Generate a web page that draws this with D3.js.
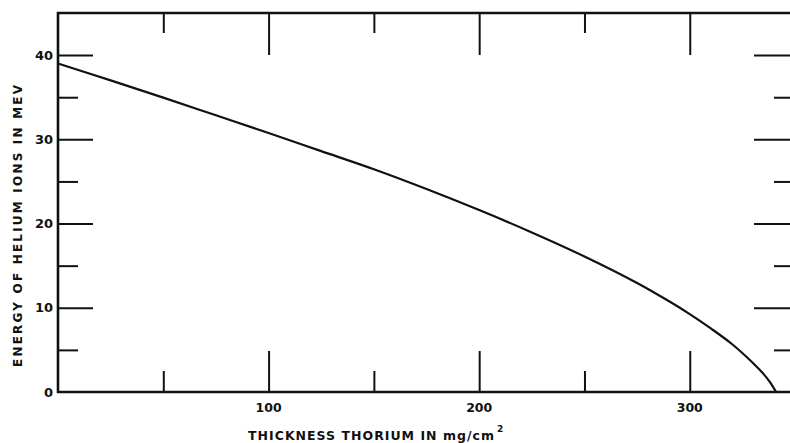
<!DOCTYPE html>
<html><head><meta charset="utf-8">
<script src="https://cdn.jsdelivr.net/npm/d3@7"></script>
<style>
html,body{margin:0;padding:0;background:#fff;}
svg{display:block;}
text{font-family:"DejaVu Sans",sans-serif;font-weight:bold;fill:#111;}
</style></head>
<body><svg id="c" width="790" height="443"></svg>
<script>
// thickness thorium (mg/cm^2)
const thickness = [0, 25, 50, 75, 100, 125, 150, 175, 200, 225, 250, 275, 290, 300, 310, 320, 330, 335, 338, 341];
// energy of helium ions (MeV)
const energy    = [39.0, 37.0, 34.95, 32.85, 30.75, 28.6, 26.45, 24.1, 21.6, 18.95, 16.1, 12.95, 10.8, 9.25, 7.55, 5.7, 3.45, 2.15, 1.2, 0];
const xMajorTicks = [100, 200, 300];
const xMinorTicks = [50, 150, 250];
const yMajorTicks = [0, 10, 20, 30, 40];
const yMinorTicks = [5, 15, 25, 35];
const xTitle = "THICKNESS THORIUM IN mg/cm";
const xTitleSup = "2";
const yTitle = "ENERGY OF HELIUM IONS IN MEV";

const svg = d3.select("#c");
const L = 58, R = 790, T = 13, B = 392;
const x = d3.scaleLinear().domain([0, 347.6]).range([L, R]);
const y = d3.scaleLinear().domain([0, 45]).range([B, T]);

function styleAxis(g, w){
  g.select(".domain").remove();
  g.selectAll(".tick line").attr("stroke", "#111").attr("stroke-width", w);
}
// left ticks (inward)
svg.append("g").attr("transform", `translate(${L},0)`)
  .call(d3.axisLeft(y).tickValues(yMajorTicks.filter(v=>v>0)).tickSize(-35).tickFormat(""))
  .call(g=>styleAxis(g,2));
svg.append("g").attr("transform", `translate(${L},0)`)
  .call(d3.axisLeft(y).tickValues(yMinorTicks).tickSize(-20).tickFormat(""))
  .call(g=>styleAxis(g,2));
// right ticks
svg.append("g").attr("transform", `translate(${R},0)`)
  .call(d3.axisRight(y).tickValues(yMajorTicks.filter(v=>v>0)).tickSize(-36).tickFormat(""))
  .call(g=>styleAxis(g,2));
svg.append("g").attr("transform", `translate(${R},0)`)
  .call(d3.axisRight(y).tickValues(yMinorTicks).tickSize(-16).tickFormat(""))
  .call(g=>styleAxis(g,2));
// bottom ticks
svg.append("g").attr("transform", `translate(0,${B})`)
  .call(d3.axisBottom(x).tickValues(xMajorTicks).tickSize(-41).tickFormat(""))
  .call(g=>styleAxis(g,2));
svg.append("g").attr("transform", `translate(0,${B})`)
  .call(d3.axisBottom(x).tickValues(xMinorTicks).tickSize(-21).tickFormat(""))
  .call(g=>styleAxis(g,2));
// top ticks
svg.append("g").attr("transform", `translate(0,${T})`)
  .call(d3.axisTop(x).tickValues(xMajorTicks).tickSize(-42).tickFormat(""))
  .call(g=>styleAxis(g,2));
svg.append("g").attr("transform", `translate(0,${T})`)
  .call(d3.axisTop(x).tickValues(xMinorTicks).tickSize(-20).tickFormat(""))
  .call(g=>styleAxis(g,2));

// frame (left, top, bottom)
svg.append("path")
  .attr("d", `M${R+2},${T}H${L}V${B}H${R+2}`)
  .attr("fill", "none").attr("stroke", "#111").attr("stroke-width", 2.6);

// tick labels
svg.append("g").selectAll("text").data(yMajorTicks).join("text")
  .attr("x", L - 5).attr("y", d => y(d)).attr("dy", "0.36em")
  .attr("text-anchor", "end").attr("font-size", 13).text(d => d);
svg.append("g").selectAll("text").data(xMajorTicks).join("text")
  .attr("x", d => x(d)).attr("y", B + 20)
  .attr("text-anchor", "middle").attr("font-size", 12.5).text(d => d);

// curve
const pts = thickness.map((t, i) => [t, energy[i]]);
svg.append("path").datum(pts)
  .attr("fill", "none").attr("stroke", "#111").attr("stroke-width", 2.2)
  .attr("d", d3.line().x(d => x(d[0])).y(d => y(d[1])).curve(d3.curveCatmullRom.alpha(0.5)));

// axis titles
const xt = svg.append("text").attr("x", 248).attr("y", 440).attr("font-size", 12.5)
  .attr("textLength", 246).attr("lengthAdjust", "spacing");
xt.text(xTitle);
svg.append("text").attr("x", 497).attr("y", 432).attr("font-size", 9).text(xTitleSup);

svg.append("text").attr("transform", "translate(22,226) rotate(-90)")
  .attr("text-anchor", "middle").attr("font-size", 12)
  .attr("textLength", 282).attr("lengthAdjust", "spacing").text(yTitle);
</script></body></html>
